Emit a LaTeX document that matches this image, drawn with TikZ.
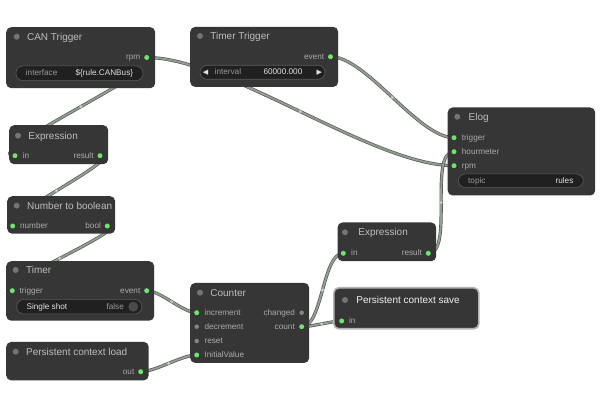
\documentclass[tikz,border=0pt]{standalone}
\usepackage{fontspec}
\setmainfont{Liberation Sans}
\newfontfamily\symf{DejaVu Sans}
\usepackage{tikz}
\usetikzlibrary{positioning, backgrounds}
\definecolor{nodebody}{HTML}{363636}
\definecolor{pillfill}{HTML}{202020}
\definecolor{pillrim}{HTML}{5C5C5C}
\definecolor{titletext}{HTML}{BDBDBD}
\definecolor{slottext}{HTML}{ABABAB}
\definecolor{keytext}{HTML}{9A9A9A}
\definecolor{valtext}{HTML}{E0E0E0}
\definecolor{slotgreen}{HTML}{6EE46E}
\definecolor{slotgray}{HTML}{858585}
\definecolor{titledot}{HTML}{747474}
\definecolor{wireedge}{HTML}{50554F}
\definecolor{wirefill}{HTML}{939E93}
\definecolor{wiremark}{HTML}{C6CDC6}
\definecolor{selrim}{HTML}{B4B4B4}
\tikzset{
  gnode/.style={fill=nodebody, rounded corners=5pt, anchor=north west, inner sep=0pt},
  ttl/.style={anchor=west, inner sep=0pt, text=titletext, font=\fontsize{10}{12}\selectfont,
              text height=7.2pt, text depth=0pt},
  lbl/.style={inner sep=0pt, text=slottext, font=\fontsize{8.2}{10}\selectfont,
              text height=5pt, text depth=0pt},
  plbl/.style={lbl, text=keytext},
  pval/.style={lbl, text=valtext},
  tdot/.style={circle, fill=titledot, inner sep=0pt, minimum size=6pt},
  gdot/.style={circle, fill=slotgreen, inner sep=0pt, minimum size=5pt},
  xdot/.style={circle, fill=slotgray, inner sep=0pt, minimum size=4.5pt},
  pill/.style={draw=pillrim, fill=pillfill, line width=0.6pt, rounded corners=7pt, inner sep=0pt},
  wire/.style={draw=wireedge, line width=0.65pt, double=wirefill, double distance=1.9pt},
  midmark/.style={circle, fill=wiremark, inner sep=0pt, minimum size=3.2pt}
}
\begin{document}
\begin{tikzpicture}[x=1pt, y=-1pt]
  \useasboundingbox (0,0) rectangle (603,414);

  % CAN Trigger
  \node[gnode, minimum width=149pt, minimum height=61pt] (can) at (6,27) {};
  \node[tdot] (cantd) at (16.7,36.7) {};
  \node[ttl, right=7pt of cantd] (cantitle) {CAN Trigger};
  \node[gdot] (canrpm) at (146.7,57.5) {};
  \node[lbl, left=3.5pt of canrpm] (canrpmlbl) {rpm};
  \node[pill, minimum width=127pt, minimum height=14.7pt] (canif) at (79.5,73.3) {};
  \node[plbl, right=10pt of canif.west] (canifkey) {interface};
  \node[pval, left=10pt of canif.east] (canifval) {\$\{rule.CANBus\}};

  % Timer Trigger
  \node[gnode, minimum width=148pt, minimum height=60pt] (tt) at (190,26.7) {};
  \node[tdot] (tttd) at (200,36) {};
  \node[ttl, right=7pt of tttd] (tttitle) {Timer Trigger};
  \node[gdot] (ttevent) at (330.5,56.7) {};
  \node[lbl, left=3.5pt of ttevent] (tteventlbl) {event};
  \node[pill, minimum width=125pt, minimum height=14pt] (ttint) at (262.5,72.3) {};
  \node[pval, font=\symf\fontsize{7}{8}\selectfont, right=3pt of ttint.west] (ttleft) {◀};
  \node[plbl, right=6pt of ttleft] (ttintkey) {interval};
  \node[pval, font=\symf\fontsize{7}{8}\selectfont, left=3pt of ttint.east] (ttright) {▶};
  \node[pval, left=14pt of ttright] (ttintval) {60000.000};

  % Expression (left)
  \node[gnode, minimum width=99pt, minimum height=39pt] (ex) at (9,125) {};
  \node[tdot] (extd) at (18,135.7) {};
  \node[ttl, right=7pt of extd] (extitle) {Expression};
  \node[gdot] (exin) at (15,155.7) {};
  \node[lbl, right=5pt of exin] (exinlbl) {in};
  \node[gdot] (exres) at (100,155.7) {};
  \node[lbl, left=3.5pt of exres] (exreslbl) {result};

  % Number to boolean
  \node[gnode, minimum width=108pt, minimum height=37.5pt] (ntb) at (7,196) {};
  \node[tdot] (ntbtd) at (16.7,205.7) {};
  \node[ttl, right=7pt of ntbtd] (ntbtitle) {Number to boolean};
  \node[gdot] (ntbnum) at (12.7,226) {};
  \node[lbl, right=4.5pt of ntbnum] (ntbnumlbl) {number};
  \node[gdot] (ntbbool) at (107.3,226) {};
  \node[lbl, left=3.5pt of ntbbool] (ntbboollbl) {bool};

  % Timer
  \node[gnode, minimum width=148pt, minimum height=59.5pt] (tm) at (6,261) {};
  \node[tdot] (tmtd) at (15.7,270) {};
  \node[ttl, right=7pt of tmtd] (tmtitle) {Timer};
  \node[gdot] (tmtrig) at (12.3,290.7) {};
  \node[lbl, right=4.5pt of tmtrig] (tmtriglbl) {trigger};
  \node[gdot] (tmevent) at (146.7,290.7) {};
  \node[lbl, left=3.5pt of tmevent] (tmeventlbl) {event};
  \node[pill, minimum width=125pt, minimum height=14.5pt] (tmss) at (79.2,306.7) {};
  \node[pval, right=10pt of tmss.west] (tmsskey) {Single shot};
  \node[circle, fill=nodebody!90!white, inner sep=0pt, minimum size=10pt] (tmtoggle) at (133.3,306.7) {};
  \node[plbl, left=4pt of tmtoggle] (tmssval) {false};

  % Persistent context load
  \node[gnode, minimum width=142.5pt, minimum height=38.5pt] (pcl) at (6,341.7) {};
  \node[tdot] (pcltd) at (15.7,351.7) {};
  \node[ttl, right=7pt of pcltd] (pcltitle) {Persistent context load};
  \node[gdot] (pclout) at (140.7,371.7) {};
  \node[lbl, left=3.5pt of pclout] (pcloutlbl) {out};

  % Counter
  \node[gnode, minimum width=119pt, minimum height=80pt] (ct) at (190,282.7) {};
  \node[tdot] (cttd) at (200,292.7) {};
  \node[ttl, right=7pt of cttd] (cttitle) {Counter};
  \node[gdot] (ctinc) at (196.7,312.7) {};
  \node[lbl, right=5pt of ctinc] (ctinclbl) {increment};
  \node[xdot] (ctdec) at (196.7,326.7) {};
  \node[lbl, right=5.2pt of ctdec] (ctdeclbl) {decrement};
  \node[xdot] (ctreset) at (196.7,341) {};
  \node[lbl, right=5.2pt of ctreset] (ctresetlbl) {reset};
  \node[gdot] (ctinit) at (196.7,355) {};
  \node[lbl, right=5pt of ctinit] (ctinitlbl) {InitialValue};
  \node[xdot] (ctchanged) at (301.7,312.7) {};
  \node[lbl, left=4pt of ctchanged] (ctchangedlbl) {changed};
  \node[gdot] (ctcount) at (301.7,326.7) {};
  \node[lbl, left=4pt of ctcount] (ctcountlbl) {count};

  % Expression (right)
  \node[gnode, minimum width=98.7pt, minimum height=38.7pt] (ex2) at (337.3,222.3) {};
  \node[tdot] (ex2td) at (345,232.3) {};
  \node[ttl, right=10pt of ex2td] (ex2title) {Expression};
  \node[gdot] (ex2in) at (343.3,253.3) {};
  \node[lbl, right=5pt of ex2in] (ex2inlbl) {in};
  \node[gdot] (ex2res) at (428.3,253.3) {};
  \node[lbl, left=3.5pt of ex2res] (ex2reslbl) {result};

  % Persistent context save (selected)
  \node[gnode, draw=selrim, line width=1.6pt, minimum width=145pt, minimum height=41pt] (pcs) at (333,287) {};
  \node[tdot] (pcstd) at (345,300) {};
  \node[ttl, text=white!94!black, right=8pt of pcstd] (pcstitle) {Persistent context save};
  \node[gdot] (pcsin) at (341.7,321) {};
  \node[lbl, right=4.5pt of pcsin] (pcsinlbl) {in};

  % Elog
  \node[gnode, minimum width=147.5pt, minimum height=88pt] (elog) at (447.5,107.3) {};
  \node[tdot] (elogtd) at (457.3,116.7) {};
  \node[ttl, right=8pt of elogtd] (elogtitle) {Elog};
  \node[gdot] (elogtrig) at (454,137.7) {};
  \node[lbl, right=5pt of elogtrig] (elogtriglbl) {trigger};
  \node[gdot] (eloghour) at (454,151.7) {};
  \node[lbl, right=5pt of eloghour] (eloghourlbl) {hourmeter};
  \node[gdot] (elogrpm) at (454,165.7) {};
  \node[lbl, right=5pt of elogrpm] (elogrpmlbl) {rpm};
  \node[pill, minimum width=125pt, minimum height=13.5pt] (elogtopic) at (520.8,180.7) {};
  \node[plbl, right=10pt of elogtopic.west] (elogtopickey) {topic};
  \node[pval, left=10pt of elogtopic.east] (elogtopicval) {rules};

  \begin{scope}[on background layer]
    \fill[white] (0,0) rectangle (603,414);
    \draw[wire] (canrpm.center) .. controls +(81,0) and +(-81,0) .. node[midmark, pos=0.5] (m1) {} (elogrpm.center);
    \draw[wire] (ttevent.center) .. controls +(36,0) and +(-36,0) .. node[midmark, pos=0.5] (m2) {} (elogtrig.center);
    \draw[wire] (ex2res.center) .. controls +(26,0) and +(-26,0) .. node[midmark, pos=0.5] (m3) {} (eloghour.center);
    \draw[wire] (canrpm.center) .. controls +(41,0) and +(-41,0) .. node[midmark, pos=0.5] (m4) {} (exin.center);
    \draw[wire] (exres.center) .. controls +(28,0) and +(-28,0) .. node[midmark, pos=0.5] (m5) {} (ntbnum.center);
    \draw[wire] (ntbbool.center) .. controls +(29,0) and +(-29,0) .. node[midmark, pos=0.5] (m6) {} (tmtrig.center);
    \draw[wire] (tmevent.center) .. controls +(14,0) and +(-14,0) .. node[midmark, pos=0.5] (m7) {} (ctinc.center);
    \draw[wire] (pclout.center) .. controls +(15,0) and +(-15,0) .. node[midmark, pos=0.5] (m8) {} (ctinit.center);
    \draw[wire] (ctcount.center) .. controls +(21,0) and +(-21,0) .. node[midmark, pos=0.5] (m9) {} (ex2in.center);
    \draw[wire] (ctcount.center) .. controls +(10,0) and +(-10,0) .. node[midmark, pos=0.5] (m10) {} (pcsin.center);
  \end{scope}
\end{tikzpicture}
\end{document}
